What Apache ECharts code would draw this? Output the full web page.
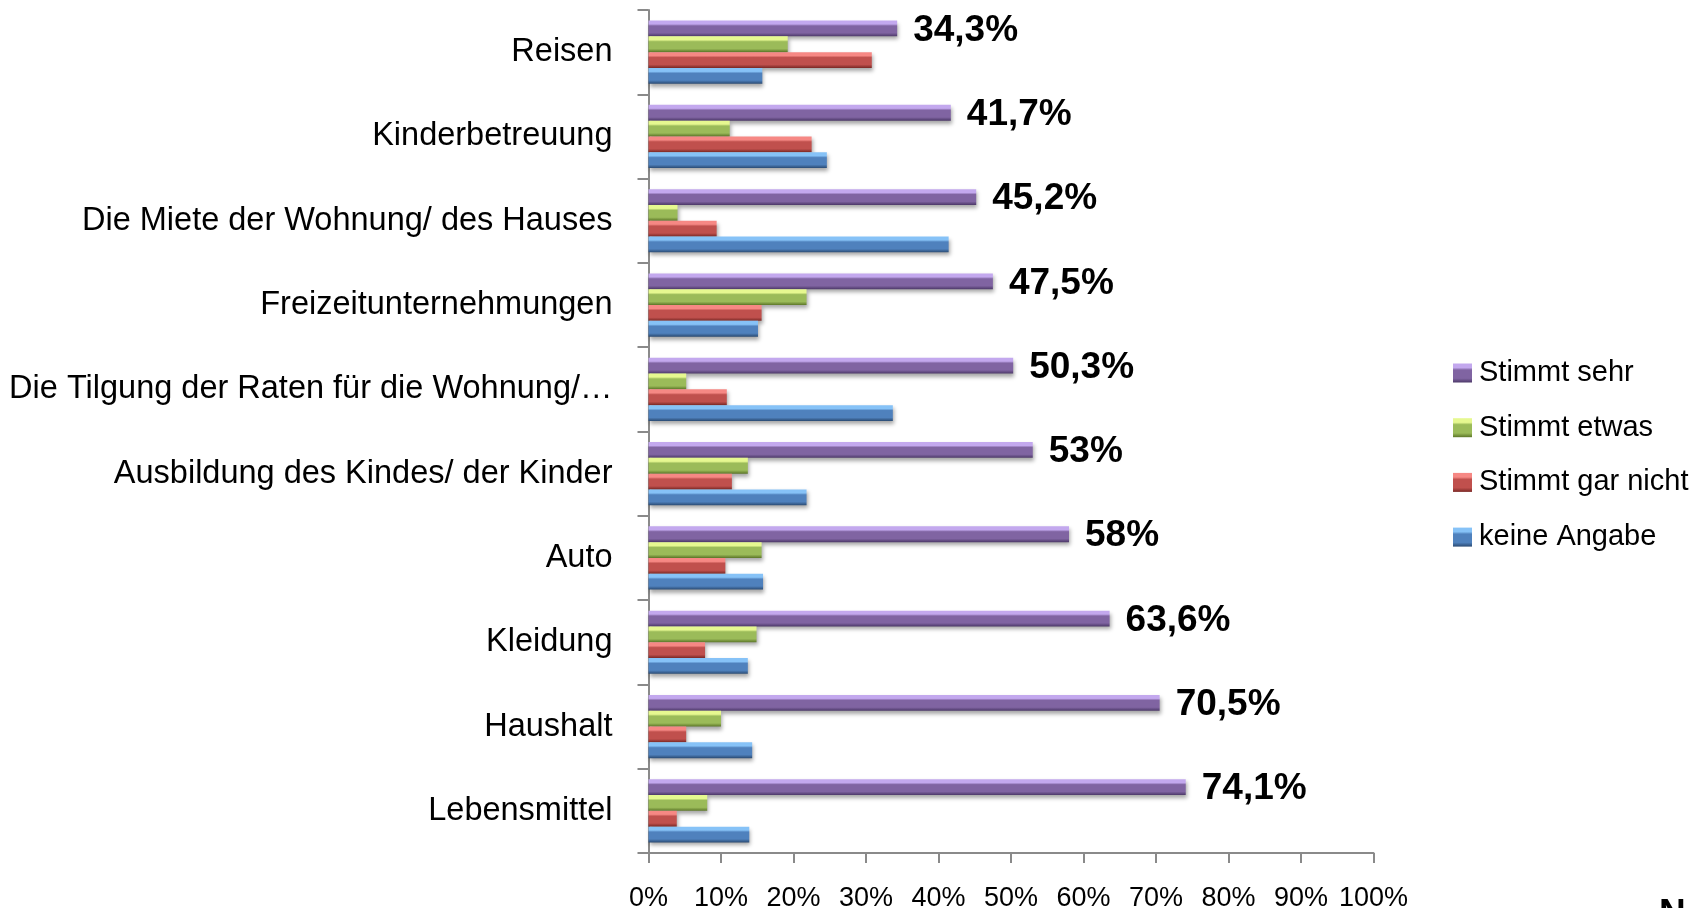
<!DOCTYPE html>
<html>
<head>
<meta charset="utf-8">
<title>Ausgaben</title>
<script src="https://cdn.jsdelivr.net/npm/echarts@6/dist/echarts.min.js"></script>
<style>
    html, body { margin: 0; padding: 0; background: #fff; }
    #chart { width: 1707px; height: 908px; }
</style>
</head>
<body>
<div id="chart"></div>
<script>
    // Kategorien von oben nach unten
    var categories = ['Reisen', 'Kinderbetreuung', 'Die Miete der Wohnung/ des Hauses', 'Freizeitunternehmungen',
        'Die Tilgung der Raten für die Wohnung/…', 'Ausbildung des Kindes/ der Kinder', 'Auto', 'Kleidung',
        'Haushalt', 'Lebensmittel'];
    var seriesNames = ['Stimmt sehr', 'Stimmt etwas', 'Stimmt gar nicht', 'keine Angabe'];
    var stimmtSehr = [34.3, 41.7, 45.2, 47.5, 50.3, 53, 58, 63.6, 70.5, 74.1];
    var stimmtEtwas = [19.2, 11.2, 4.0, 21.8, 5.2, 13.7, 15.6, 14.9, 10.0, 8.1];
    var stimmtGarNicht = [30.8, 22.5, 9.4, 15.6, 10.8, 11.5, 10.6, 7.8, 5.2, 3.9];
    var keineAngabe = [15.7, 24.6, 41.4, 15.1, 33.7, 21.8, 15.8, 13.7, 14.3, 13.9];
    var sehrLabels = ['34,3%', '41,7%', '45,2%', '47,5%', '50,3%', '53%', '58%', '63,6%', '70,5%', '74,1%'];
    var xTicks = [0, 10, 20, 30, 40, 50, 60, 70, 80, 90, 100];

    var font = 'Liberation Sans';
    var axisGray = '#8a8a8a';

    // Farbverlauf fuer den Excel-Bevel-Look
    function bevel(light, mid, dark) {
        return new echarts.graphic.LinearGradient(0, 0, 0, 1, [
            { offset: 0, color: light },
            { offset: 0.22, color: light },
            { offset: 0.34, color: mid },
            { offset: 0.78, color: mid },
            { offset: 1, color: dark }
        ]);
    }
    var colors = [
        bevel('#c3a8ee', '#8064a2', '#4c3868'),
        bevel('#e6f890', '#9bbb59', '#5c7628'),
        bevel('#f68884', '#c0504d', '#7a2825'),
        bevel('#86c2f7', '#4f81bd', '#2a4a72')
    ];
    var values = [stimmtSehr, stimmtEtwas, stimmtGarNicht, keineAngabe];

    var series = [];
    for (var i = 0; i < seriesNames.length; i++) {
        series.push({
            name: seriesNames[i],
            type: 'bar',
            barGap: '0%',
            barCategoryGap: '25%',
            itemStyle: {
                color: colors[i],
                shadowColor: 'rgba(0,0,0,0.35)',
                shadowBlur: 4,
                shadowOffsetY: 3,
                shadowOffsetX: 1
            },
            label: i === 0 ? {
                show: true,
                position: 'right',
                distance: 16,
                offset: [0, 2],
                fontFamily: font,
                fontSize: 37,
                fontWeight: 'bold',
                color: '#000',
                formatter: function (p) { return sehrLabels[p.dataIndex]; }
            } : { show: false },
            data: values[i]
        });
    }

    var chart = echarts.init(document.getElementById('chart'));
    var option = {
        animation: false,
        grid: { left: 648.5, right: 333.5, top: 10, bottom: 55, containLabel: false, outerBoundsMode: 'none' },
        legend: {
            orient: 'vertical',
            left: 1453,
            top: 358,
            padding: 0,
            itemWidth: 19,
            itemHeight: 19,
            itemGap: 24.7,
            icon: 'rect',
            textStyle: { fontFamily: font, fontSize: 29, color: '#000', lineHeight: 30, padding: [0, 0, 0, 2] },
            data: seriesNames
        },
        xAxis: {
            type: 'value',
            min: 0,
            max: 100,
            interval: 10,
            axisLine: { show: true, lineStyle: { color: axisGray, width: 2 } },
            axisTick: { show: true, length: 10, lineStyle: { color: axisGray, width: 2 } },
            splitLine: { show: false },
            axisLabel: {
                margin: 32,
                fontFamily: font,
                fontSize: 27,
                color: '#000',
                formatter: function (v) { return xTicks.indexOf(v) >= 0 ? v + '%' : ''; }
            }
        },
        yAxis: {
            type: 'category',
            inverse: true,
            data: categories,
            axisLine: { show: true, lineStyle: { color: axisGray, width: 2 } },
            axisTick: { show: true, length: 11, lineStyle: { color: axisGray, width: 2 } },
            axisLabel: { margin: 36, fontFamily: font, fontSize: 32.5, color: '#000' }
        },
        graphic: [{
            type: 'text',
            left: 1659,
            top: 896,
            style: { text: 'N', fontFamily: font, fontSize: 37, fontWeight: 'bold', fill: '#000' }
        }],
        series: series
    };
    chart.setOption(option);
</script>
</body>
</html>
